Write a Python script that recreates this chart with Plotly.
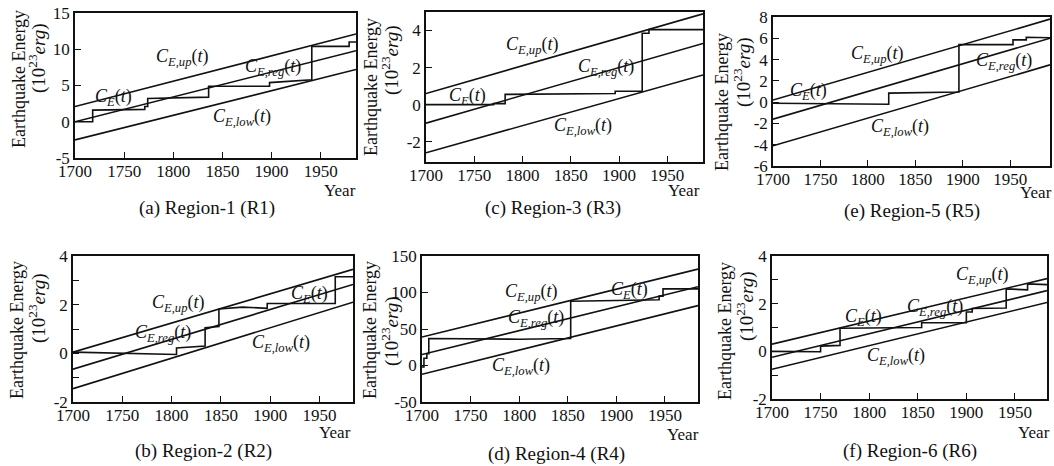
import plotly.graph_objects as go

# ---------------- data ----------------
captions = ["(a) Region-1 (R1)", "(b) Region-2 (R2)", "(c) Region-3 (R3)",
            "(d) Region-4 (R4)", "(e) Region-5 (R5)", "(f) Region-6 (R6)"]
x_ticks = [1700, 1750, 1800, 1850, 1900, 1950]

# straight lines: value at 1700 and at right end of axis
r1_end = 1986
r1_up = [2.1, 12.1]
r1_reg = [0.0, 9.8]
r1_low = [-2.5, 7.2]
r1_ce_year = [1700, 1718, 1718, 1771, 1771, 1774, 1774, 1836, 1836, 1898, 1898, 1941, 1941, 1979, 1979, 1986]
r1_ce_val = [0.0, 0.0, 1.6, 1.7, 2.1, 2.1, 3.2, 3.4, 4.9, 4.9, 5.4, 5.8, 10.4, 10.4, 11.0, 11.0]

r2_end = 1984
r2_up = [0.05, 3.45]
r2_reg = [-0.65, 2.83]
r2_low = [-1.45, 2.1]
r2_ce_year = [1700, 1805, 1805, 1834, 1834, 1848, 1848, 1872, 1897, 1897, 1966, 1966, 1984]
r2_ce_val = [0.05, -0.05, 0.22, 0.3, 1.05, 1.1, 1.82, 1.9, 1.85, 2.05, 2.05, 3.15, 3.15]

r3_end = 1987
r3_up = [0.6, 4.9]
r3_reg = [-1.0, 3.3]
r3_low = [-2.6, 1.6]
r3_ce_year = [1700, 1770, 1770, 1782, 1782, 1896, 1896, 1924, 1924, 1931, 1931, 1987]
r3_ce_val = [0.0, 0.0, 0.05, 0.05, 0.55, 0.6, 0.72, 0.72, 3.85, 3.85, 4.05, 4.05]

r4_end = 1984
r4_up = [39, 132]
r4_reg = [15, 108]
r4_low = [-12, 82]
r4_ce_year = [1700, 1702, 1702, 1705, 1705, 1707, 1707, 1800, 1853, 1853, 1900, 1944, 1944, 1948, 1948, 1984]
r4_ce_val = [-2, -2, 10, 10, 16, 16, 37, 36, 37, 88, 89, 90, 95, 95, 105, 105]

r5_end = 1992
r5_up = [0.2, 7.8]
r5_reg = [-1.6, 6.0]
r5_low = [-4.1, 3.5]
r5_ce_year = [1700, 1822, 1822, 1896, 1896, 1953, 1953, 1967, 1967, 1992]
r5_ce_val = [-0.1, -0.2, 0.85, 0.95, 5.4, 5.4, 5.85, 5.85, 6.1, 6.05]

r6_end = 1983
r6_up = [0.3, 3.05]
r6_reg = [-0.25, 2.55]
r6_low = [-0.75, 2.05]
r6_ce_year = [1700, 1750, 1750, 1770, 1770, 1854, 1854, 1900, 1900, 1906, 1906, 1941, 1941, 1963, 1963, 1983]
r6_ce_val = [0.0, -0.02, 0.22, 0.25, 0.97, 1.0, 1.2, 1.2, 1.65, 1.65, 1.8, 1.82, 2.62, 2.58, 2.83, 2.8]

y_ranges = [[-5, 15], [-2, 4], [-3.1, 5.0], [-50, 150], [-6, 8], [-2, 4]]
y_tickvals = [[-5, 0, 5, 10, 15], [-2, -1, 0, 1, 2, 3, 4], [-2, 0, 2, 4],
              [-50, 0, 50, 100, 150], [-6, -4, -2, 0, 2, 4, 6, 8], [-2, -1, 0, 1, 2, 3, 4]]
y_ticktext = [["-5", "0", "5", "10", "15"], ["-2", "", "0", "", "2", "", "4"], ["-2", "0", "2", "4"],
              ["-50", "0", "50", "100", "150"], ["-6", "-4", "-2", "0", "2", "4", "6", "8"],
              ["-2", "", "0", "", "2", "", "4"]]

# label positions (year, value) for C_E,up / C_E,reg / C_E / C_E,low
lab_up = [(1809, 8.9), (1807, 2.05), (1810, 3.2), (1812, 100), (1810, 4.5), (1916, 3.17)]
lab_reg = [(1902, 7.55), (1791, 0.81), (1886, 2.0), (1817, 64), (1943, 3.85), (1868, 1.85)]
lab_ce = [(1739, 3.3), (1940, 2.42), (1743, 0.46), (1914, 102.6), (1737, 1.0), (1794, 1.43)]
lab_low = [(1870, 0.6), (1911, 0.4), (1863, -1.2), (1802, -1.7), (1834, -2.4), (1828, -0.2)]

# ---------------- layout geometry (pixels) ----------------
W, H = 1054, 466
# left, right, top, bottom of plot frames
boxes = [(75, 356, 13, 158), (73, 353, 256, 402), (426, 703, 12, 162),
         (422, 698, 256, 402), (773, 1050, 17, 166), (772, 1047, 256, 399)]
ytitle1 = [(19, 79), (17, 330), (371, 87), (370, 330), (722, 102), (725, 331)]
ytitle2 = [(38, 58), (37, 308), (391, 60), (390, 331), (742, 72), (745, 306)]
year_pos = [(340, 191), (335, 432), (684, 191), (683, 434), (1036, 192), (1034, 432)]
cap_pos = [(207, 208), (203, 451), (553, 208), (556, 454), (912, 211), (910, 451)]

ends = [r1_end, r2_end, r3_end, r4_end, r5_end, r6_end]
ups = [r1_up, r2_up, r3_up, r4_up, r5_up, r6_up]
regs = [r1_reg, r2_reg, r3_reg, r4_reg, r5_reg, r6_reg]
lows = [r1_low, r2_low, r3_low, r4_low, r5_low, r6_low]
ce_years = [r1_ce_year, r2_ce_year, r3_ce_year, r4_ce_year, r5_ce_year, r6_ce_year]
ce_vals = [r1_ce_val, r2_ce_val, r3_ce_val, r4_ce_val, r5_ce_val, r6_ce_val]

FONT = "Liberation Serif"
INK = "#111111"

fig = go.Figure()
layout = dict(template="none", width=W, height=H, autosize=False,
              margin=dict(l=0, r=0, t=0, b=0, pad=0, autoexpand=False),
              paper_bgcolor="white", plot_bgcolor="white", showlegend=False,
              font=dict(family=FONT, color=INK))
annotations = []


def px(x):
    return x / W


def py(y):
    return 1 - y / H


def lab(sub):
    return "<i>C</i><sub><i>" + sub + "</i></sub>(<i>t</i>)"


def note(x, y, text, size, angle=0, xref="paper", yref="paper"):
    return dict(x=x, y=y, xref=xref, yref=yref, text=text, textangle=angle, showarrow=False,
                xanchor="center", yanchor="middle", borderpad=0,
                font=dict(family=FONT, size=size, color=INK))


for i in range(6):
    n = "" if i == 0 else str(i + 1)
    xa, ya = "x" + n, "y" + n
    l, r, t, b = boxes[i]
    end = ends[i]
    for line in (ups[i], regs[i], lows[i]):
        fig.add_trace(go.Scatter(x=[1700, end], y=line, mode="lines", xaxis=xa, yaxis=ya,
                                 line=dict(color=INK, width=1.6), hoverinfo="skip"))
    fig.add_trace(go.Scatter(x=ce_years[i], y=ce_vals[i], mode="lines", xaxis=xa, yaxis=ya,
                             line=dict(color=INK, width=1.6), hoverinfo="skip"))
    axis_common = dict(ticks="inside", ticklen=6, tickwidth=1.3, tickcolor=INK,
                       showline=True, linecolor=INK, linewidth=1.6, mirror=True,
                       showgrid=False, zeroline=False, automargin=False,
                       tickfont=dict(family=FONT, size=17, color=INK))
    layout["xaxis" + n] = dict(domain=[px(l), min(px(r), 1)], range=[1700, end], anchor=ya,
                               tickvals=x_ticks, ticktext=[str(v) for v in x_ticks],
                               ticklabelstandoff=-3, **axis_common)
    layout["yaxis" + n] = dict(domain=[py(b), py(t)], range=y_ranges[i], anchor=xa,
                               tickvals=y_tickvals[i], ticktext=y_ticktext[i],
                               **axis_common)
    for (xx, yy), txt in zip((lab_up[i], lab_reg[i], lab_ce[i], lab_low[i]),
                             (lab("E,up"), lab("E,reg"), lab("E"), lab("E,low"))):
        annotations.append(note(xx, yy, txt, 18, xref=xa, yref=ya))
    annotations.append(note(px(ytitle1[i][0]), py(ytitle1[i][1]), "Earthquake Energy", 18, -90))
    annotations.append(note(px(ytitle2[i][0]), py(ytitle2[i][1]),
                            "(10<sup>23</sup><i>erg</i>)", 19, -90))
    annotations.append(note(px(year_pos[i][0]), py(year_pos[i][1]), "Year", 17))
    annotations.append(note(px(cap_pos[i][0]), py(cap_pos[i][1]), captions[i], 19))

layout["annotations"] = annotations
fig.update_layout(**layout)
fig.write_html("out.html", config={"displayModeBar": False},
               post_script="document.body.style.margin='0px';document.body.style.overflow='hidden';")
